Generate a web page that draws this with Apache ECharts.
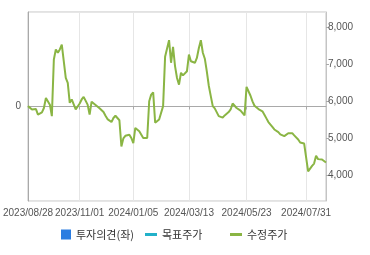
<!DOCTYPE html>
<html><head><meta charset="utf-8">
<script src="https://cdn.jsdelivr.net/npm/echarts@6/dist/echarts.min.js"></script>
<style>html,body{margin:0;padding:0;background:#fff}#c{width:370px;height:255px}</style>
</head><body><div id="c"></div>
<script>
// x-axis tick labels and the category index at which each appears
const xLabels = ['2023/08/28','2023/11/01','2024/01/05','2024/03/13','2024/05/23','2024/07/31'];
const xLabelIndex = [0, 26, 53, 81, 110, 140];
// 수정주가 (adjusted price), sampled evenly across the period
const price = [
5860,5810,5770,5740,5780,5630,5650,5690,5810,6080,
6050,5900,5590,7120,7390,7300,7390,7520,7570,6620,
6490,5950,6040,6040,5770,5810,5930,6040,6110,6140,
5900,5630,5980,5930,5890,5860,5800,5750,5700,5600,
5510,5500,5430,5540,5600,5560,5480,4770,4990,5060,
5050,5090,5000,4860,5270,5230,5180,5140,5000,4970,
5000,5990,6170,6230,5410,5450,5500,5540,5860,7190,
7210,7640,7030,7460,6940,6620,6440,6760,6690,6670,
6800,7250,7070,7070,7030,7160,7430,7640,7300,7140,
6800,6410,6130,5860,5800,5770,5590,5630,5550,5610,
5660,5700,5770,5930,5910,5810,5770,5740,5690,5610,
6380,6380,6140,5990,5870,5830,5780,5770,5720,5630,
5530,5430,5380,5300,5230,5220,5160,5100,5050,5050,
5080,5130,5150,5130,5070,5030,4960,4880,4830,4850,
4850,4100,4080,4250,4310,4520,4430,4440,4420,4380,
4340
];
const targetPrice = [];   // 목표주가: no data
const opinion = [];       // 투자의견: no data
const rightTicks = [4000, 5000, 6000, 7000, 8000];
const seriesNames = ['투자의견(좌)', '목표주가', '수정주가'];

const categories = price.map((_, i) => {
  const k = xLabelIndex.indexOf(i);
  return k >= 0 ? xLabels[k] : '';
});
const showCat = (i, v) => v !== '';

const chart = echarts.init(document.getElementById('c'), null, {renderer: 'canvas'});
const txt = {color: '#555', fontSize: 10, fontFamily: 'Liberation Sans, Arial, sans-serif'};
const legTxt = {color: '#333', fontSize: 11, fontFamily: 'Noto Sans CJK KR, sans-serif'};
chart.setOption({
  animation: false,
  grid: {left: 26, right: 44, top: 12, bottom: 54, show: true, borderColor: '#c4c4c4', borderWidth: 1},
  legend: [
    {data: [{name: seriesNames[0], icon: 'rect'}], left: 61, top: 229, itemWidth: 10, itemHeight: 10, textStyle: legTxt, itemGap: 0, padding: 0},
    {data: [{name: seriesNames[1], icon: 'rect'}], left: 145, top: 229, itemWidth: 12, itemHeight: 3, textStyle: legTxt, padding: 0},
    {data: [{name: seriesNames[2], icon: 'rect'}], left: 230, top: 229, itemWidth: 12, itemHeight: 3, textStyle: legTxt, padding: 0}
  ],
  xAxis: {
    type: 'category', data: categories, boundaryGap: false,
    axisLine: {lineStyle: {color: '#a9a9a9'}},
    axisTick: {show: true, interval: showCat, length: 3, lineStyle: {color: '#a9a9a9'}},
    axisLabel: Object.assign({interval: showCat, margin: 7, hideOverlap: false}, txt),
    splitLine: {show: true, interval: showCat, lineStyle: {color: '#e6e6e6'}}
  },
  yAxis: [
    {
      type: 'value', position: 'left', min: -1, max: 1, interval: 1,
      axisLine: {show: true, lineStyle: {color: '#a9a9a9'}},
      axisTick: {show: false},
      axisLabel: Object.assign({formatter: v => v === 0 ? '0' : '', margin: 7}, txt),
      splitLine: {show: true, lineStyle: {color: '#e6e6e6'}}
    },
    {
      type: 'value', position: 'right', min: 3300, max: 8400,
      axisLine: {show: true, lineStyle: {color: '#c4c4c4'}},
      axisTick: {show: true, length: 3, customValues: rightTicks, lineStyle: {color: '#a9a9a9'}},
      axisLabel: Object.assign({customValues: rightTicks, margin: 2, formatter: v => v.toLocaleString('en-US')}, txt),
      splitLine: {show: false}
    }
  ],
  series: [
    {name: seriesNames[0], type: 'bar', yAxisIndex: 0, data: opinion, itemStyle: {color: '#2b7de1'}},
    {name: seriesNames[1], type: 'line', yAxisIndex: 1, data: targetPrice, itemStyle: {color: '#22b1c9'}, lineStyle: {color: '#22b1c9'}},
    {name: seriesNames[2], type: 'line', yAxisIndex: 1, data: price, symbol: 'none', smooth: false,
     itemStyle: {color: '#8ab544'}, lineStyle: {color: '#8ab544', width: 2}}
  ]
});
</script></body></html>
